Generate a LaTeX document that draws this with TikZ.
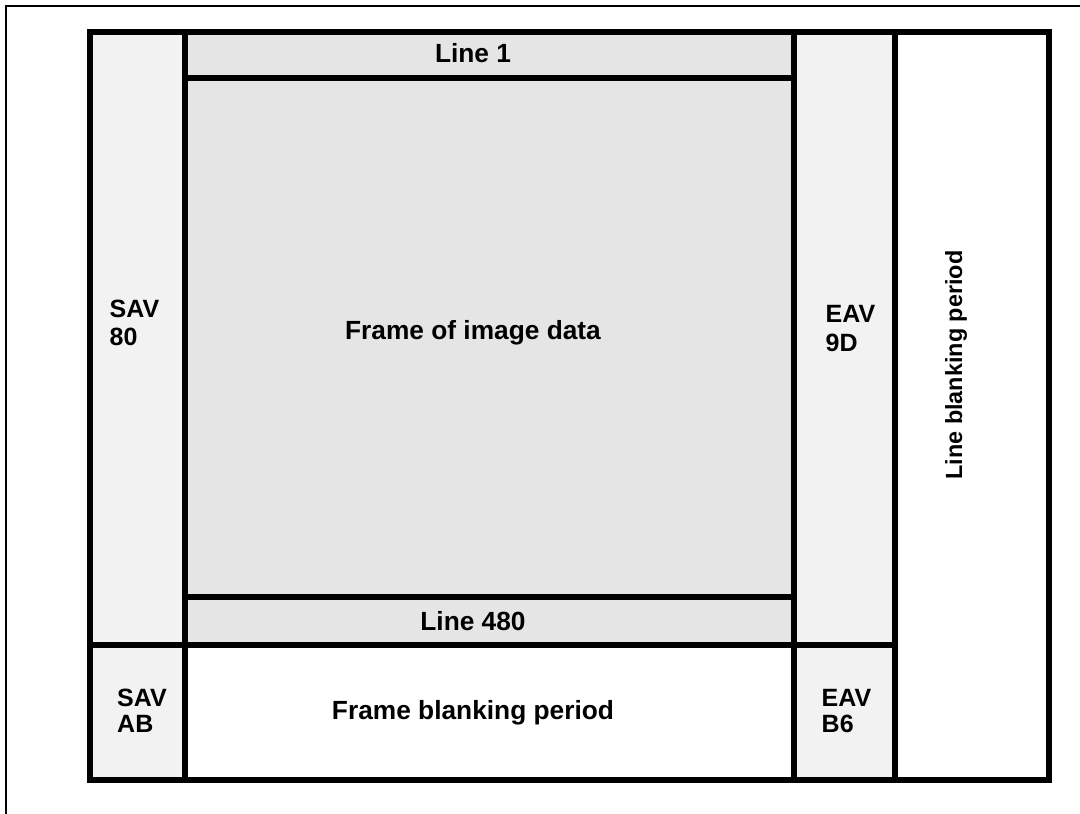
\documentclass[tikz,border=0pt]{standalone}
\usepackage{fontspec}
\setmainfont{Liberation Sans}
\usetikzlibrary{fit}
\definecolor{cellA}{HTML}{F2F2F2}
\definecolor{cellB}{HTML}{E5E5E5}
\begin{document}
\begin{tikzpicture}[x=1pt,y=-1pt,
  cell/.style={draw=black, line width=6pt, inner sep=0pt, outer sep=0pt, rectangle},
  side/.style={fill=cellA},
  mainc/.style={fill=cellB},
  blank/.style={fill=white},
  mainlbl/.style={font=\bfseries\fontsize{26.3}{30}\selectfont, inner sep=0pt, anchor=base},
  sidelbl/.style={font=\bfseries\fontsize{25}{28.4}\selectfont, inner sep=0pt, align=left, anchor=base west},
  sidelblb/.style={font=\bfseries\fontsize{25}{26.7}\selectfont, inner sep=0pt, align=left, anchor=base west},
]
\useasboundingbox (0,0) rectangle (1080,814);
\fill[white] (0,0) rectangle (1080,814);
\draw[line width=2pt] (1080,6) -- (6,6) -- (6,814);

\node[cell,side,fit={(89.5,32)(185,645)}] (savtop) {};
\node[cell,mainc,fit={(185,32)(794,78)}] (line1) {};
\node[cell,mainc,fit={(185,78)(794,597)}] (frame) {};
\node[cell,mainc,fit={(185,597)(794,645)}] (line480) {};
\node[cell,side,fit={(794,32)(895,645)}] (eavtop) {};
\node[cell,blank,fit={(895,32)(1049,780)}] (lineblank) {};
\node[cell,side,fit={(89.5,645)(185,780)}] (savbot) {};
\node[cell,blank,fit={(185,645)(794,780)}] (frameblank) {};
\node[cell,side,fit={(794,645)(895,780)}] (eavbot) {};

\node[mainlbl] (t1) at (473,62.3) {Line 1};
\node[mainlbl] (t2) at (473,339) {Frame of image data};
\node[mainlbl] (t3) at (473,630) {Line 480};
\node[mainlbl] (t4) at (473,719.3) {Frame blanking period};

\node[sidelbl] (s1) at (109.5,345.7) {SAV\\80};
\node[sidelbl] (s2) at (825.5,351) {EAV\\9D};
\node[sidelblb] (s3) at (117,732.7) {SAV\\AB};
\node[sidelblb] (s4) at (821.5,732.7) {EAV\\B6};

\node[font=\bfseries\fontsize{23.4}{28}\selectfont, rotate=90, anchor=base, inner sep=0pt] (lb) at (962,365) {Line blanking period};
\end{tikzpicture}
\end{document}
